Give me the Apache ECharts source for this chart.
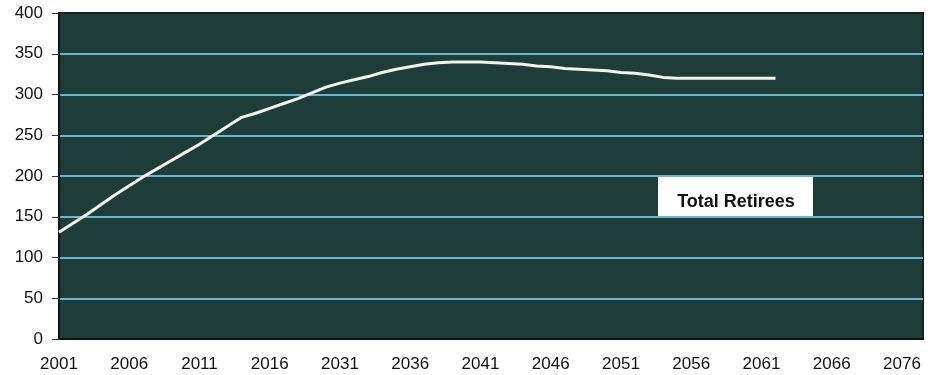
<!DOCTYPE html>
<html>
<head>
<meta charset="utf-8">
<script src="https://cdn.jsdelivr.net/npm/echarts@6/dist/echarts.min.js"></script>
<style>
  html, body { margin: 0; padding: 0; background: #fff; }
  #chart { width: 932px; height: 375px; }
</style>
</head>
<body>
<div id="chart"></div>
<script>
// x labels as printed on the original (one every 5 steps)
const tickLabels = ['2001', '2006', '2011', '2016', '2031', '2036', '2041', '2046', '2051', '2056', '2061', '2066', '2076']
// total retirees, one value per step from the first label
const retirees = [
  131, 142, 153, 165, 177, 188, 199, 209, 219, 229,
  239, 250, 261, 272, 277, 283, 289, 295, 302, 309,
  314, 318, 322, 327, 331, 334, 337, 339, 340, 340,
  340, 339, 338, 337, 335, 334, 332, 331, 330, 329,
  327, 326, 324, 321, 320, 320, 320, 320, 320, 320,
  320, 320
]
const yTicks = { min: 0, max: 400, step: 50 }

const chart = echarts.init(document.getElementById('chart'))
const font = "'Liberation Sans', Arial, sans-serif"

const option = {
  animation: false,
  grid: {
    left: 59,
    right: 9,
    top: 13,
    bottom: 36,
    show: true,
    backgroundColor: '#1f3d38',
    borderColor: '#13241f',
    borderWidth: 2
  },
  xAxis: [
    {
      type: 'value',
      min: 0,
      max: 61.5,
      interval: 5,
      axisLine: { show: true, lineStyle: { color: '#111', width: 2 } },
      axisTick: { show: false },
      splitLine: { show: false },
      axisLabel: {
        color: '#111',
        fontSize: 17,
        fontFamily: font,
        margin: 17,
        formatter: function (v) {
          const i = v / 5
          return Number.isInteger(i) && tickLabels[i] ? tickLabels[i] : ''
        }
      }
    },
    {
      type: 'value',
      position: 'top',
      min: 0,
      max: 61.5,
      z: 5,
      axisLine: { show: true, lineStyle: { color: '#13241f', width: 2 } },
      axisTick: { show: false },
      axisLabel: { show: false },
      splitLine: { show: false }
    }
  ],
  yAxis: {
    type: 'value',
    min: yTicks.min,
    max: yTicks.max,
    interval: yTicks.step,
    axisLine: { show: true, lineStyle: { color: '#111', width: 2 } },
    axisTick: { show: true, length: 7, lineStyle: { color: '#333' } },
    axisLabel: { color: '#111', fontSize: 17, fontFamily: font, margin: 16 },
    splitLine: { lineStyle: { color: '#66b6d6', width: 2 } }
  },
  series: [
    {
      name: 'Total Retirees',
      type: 'line',
      symbol: 'none',
      lineStyle: { color: '#f4f4ee', width: 3 },
      data: retirees.map((v, i) => [i, v]),
      z: 3
    }
  ],
  graphic: [
    {
      type: 'group',
      left: 658,
      top: 176,
      z: 10,
      children: [
        {
          type: 'rect',
          shape: { x: 0, y: 0, width: 155, height: 42 },
          style: { fill: '#ffffff' }
        },
        {
          type: 'text',
          x: 78,
          y: 26,
          style: {
            text: 'Total Retirees',
            fill: '#111',
            font: 'bold 18px ' + font,
            align: 'center',
            verticalAlign: 'middle'
          }
        }
      ]
    }
  ]
}

chart.setOption(option)
</script>
</body>
</html>
